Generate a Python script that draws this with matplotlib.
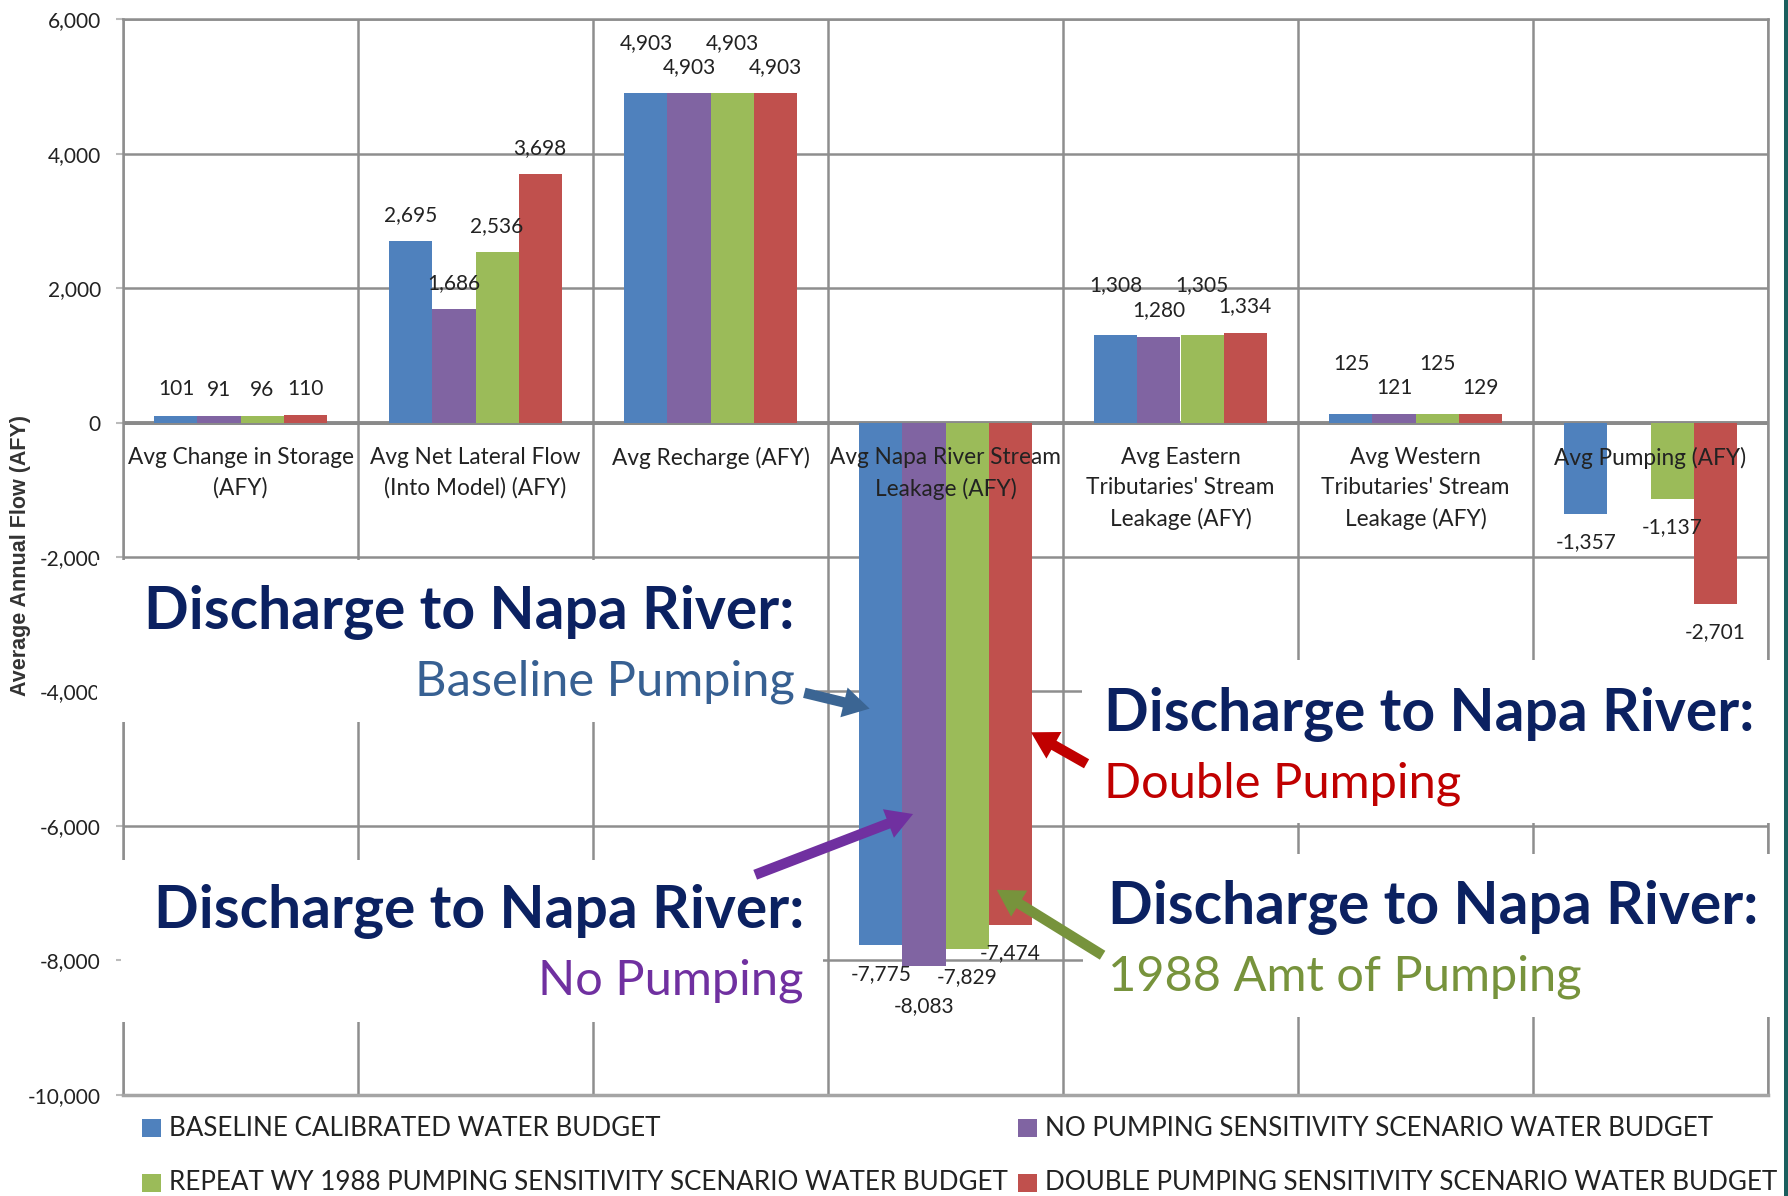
import matplotlib
matplotlib.use("Agg")
import matplotlib.pyplot as plt
from matplotlib.patches import Rectangle, FancyArrowPatch
import numpy as np

# ---------------- data ----------------
categories = [
    "Avg Change in Storage\n(AFY)",
    "Avg Net Lateral Flow\n(Into Model) (AFY)",
    "Avg Recharge (AFY)",
    "Avg Napa River Stream\nLeakage (AFY)",
    "Avg Eastern\nTributaries' Stream\nLeakage (AFY)",
    "Avg Western\nTributaries' Stream\nLeakage (AFY)",
    "Avg Pumping (AFY)",
]
series_names = [
    "BASELINE CALIBRATED WATER BUDGET",
    "NO PUMPING SENSITIVITY SCENARIO WATER BUDGET",
    "REPEAT WY 1988 PUMPING SENSITIVITY SCENARIO WATER BUDGET",
    "DOUBLE PUMPING SENSITIVITY SCENARIO WATER BUDGET",
]
baseline = [101, 2695, 4903, -7775, 1308, 125, -1357]
no_pumping = [91, 1686, 4903, -8083, 1280, 121, 0]
repeat_1988 = [96, 2536, 4903, -7829, 1305, 125, -1137]
double_pumping = [110, 3698, 4903, -7474, 1334, 129, -2701]
y_ticks = [-10000, -8000, -6000, -4000, -2000, 0, 2000, 4000, 6000]
y_label = "Average Annual Flow (AFY)"
callout_head = "Discharge to Napa River:"
callout_subs = ["Baseline Pumping", "Double Pumping", "No Pumping", "1988 Amt of Pumping"]

series = [baseline, no_pumping, repeat_1988, double_pumping]
colors = ["#4F81BD", "#8064A2", "#9BBB59", "#C0504D"]

# ---------------- figure ----------------
W, H = 1788, 1196
fig = plt.figure(figsize=(W / 100, H / 100), dpi=100)
fig.patch.set_facecolor("white")
S = W / 1568.0  # overview -> full pixel scale


def OV(xo, yo):
    """overview pixel coords -> figure fraction"""
    return xo * S / W, 1 - yo * S / H


ax_left, ax_right = 123, 1768
ax_top, ax_bot = 19.3, 1094.7
ax = fig.add_axes([ax_left / W, 1 - ax_bot / H, (ax_right - ax_left) / W, (ax_bot - ax_top) / H])
ax.set_xlim(-0.5, len(categories) - 0.5)
ax.set_ylim(-10000, 6000)

grid_c = "#8e8e8e"
ax.set_yticks(y_ticks)
ax.set_yticklabels([f"{t:,}" for t in y_ticks])
ax.set_xticks(np.arange(-0.5, len(categories), 1.0))
ax.tick_params(axis="x", length=0, labelbottom=False)
ax.tick_params(axis="y", length=5, width=1.5, color="#bbbbbb", pad=11, labelsize=15, labelcolor="#222222")
for lab in ax.get_yticklabels():
    lab.set_family("Lato")
ax.grid(True, color=grid_c, lw=1.8)
ax.set_axisbelow(True)
for sp in ax.spines.values():
    sp.set_color(grid_c)
    sp.set_linewidth(1.8)
ax.spines["bottom"].set_color("#a5a5a5")
ax.spines["bottom"].set_linewidth(2.5)
ax.axhline(0, color="#8a8a8a", lw=2.8, zorder=2)

x = np.arange(len(categories))
w = 0.183
for k, (vals, c) in enumerate(zip(series, colors)):
    ax.bar(x + (k - 1.5) * w, vals, w, color=c, zorder=3, linewidth=0)

# data labels
high_cats = {2, 4, 5}
for k, vals in enumerate(series):
    for i, v in enumerate(vals):
        if v == 0:
            continue
        if v > 0:
            dy = 36 if (i in high_cats and k in (0, 2)) else 19
        else:
            dy = -29 if (i == 3 and k == 1) else -20.5
        ax.annotate(f"{v:,}", xy=(i + (k - 1.5) * w, v), xytext=(0, dy), textcoords="offset points",
                    ha="center", va="center", fontsize=15, family="Lato", color="#222222", zorder=5)

# category labels just under the zero line
for i, cat in enumerate(categories):
    ax.annotate(cat, xy=(i, 0), xytext=(0, -17.5), textcoords="offset points", ha="center", va="top",
                fontsize=16.3, family="Lato", color="#222222", linespacing=1.53, zorder=5)

fig.text(21 / W, 1 - 556 / H, y_label, rotation=90, ha="center", va="center",
         fontsize=15.5, fontweight="bold", family="Liberation Sans", color="#333333")

# ---------------- legend ----------------
renderer = fig.canvas.get_renderer()


def fit_size(s, target_px, **kw):
    t = fig.text(0, 0, s, fontsize=30, **kw)
    wpx = t.get_window_extent(renderer=renderer).width
    t.remove()
    return 30 * target_px / wpx


leg_targets = [487, 667, 840, 730]
sizes = [fit_size(n, tw, family="Lato") for n, tw in zip(series_names, leg_targets)]
leg_size = float(np.median(sizes))
leg_pos = [(142, 1128), (1018, 1128), (142, 1183), (1018, 1183)]
for (px, py), name, c in zip(leg_pos, series_names, colors):
    fig.patches.append(Rectangle((px / W, 1 - (py + 9) / H), 19 / W, 18 / H,
                                 transform=fig.transFigure, facecolor=c, edgecolor="none"))
    fig.text((px + 27) / W, 1 - py / H, name, ha="left", va="center", fontsize=leg_size,
             family="Lato", color="#222222")

# ---------------- callout boxes ----------------
boxes = [(85, 491, 716, 633), (949, 579, 1568, 722), (106, 754, 722, 896), (950, 749, 1568, 892)]
for (x0, y0, x1, y1) in boxes:
    fx0, fy1 = OV(x0, y0)
    fx1, fy0 = OV(x1, y1)
    fig.patches.append(Rectangle((fx0, fy0), fx1 - fx0, fy1 - fy0, transform=fig.transFigure,
                                 facecolor="white", edgecolor="none", zorder=5))

head_size = fit_size(callout_head, 569 * S, family="Lato", fontweight="bold")
sub_colors = ["#376092", "#C00000", "#7030A0", "#77933C"]
sub_widths = [335, 314, 231, 412]
sub_size = float(np.median([fit_size(s, tw * S, family="Lato") for s, tw in zip(callout_subs, sub_widths)]))

# (anchor x, head baseline, sub baseline, ha)
callouts = [(697, 552, 610, "right"), (968, 641, 699, "left"), (705, 814, 872, "right"), (972, 810, 869, "left")]
for (ax_x, hb, sb, ha), sub, sc in zip(callouts, callout_subs, sub_colors):
    fig.text(*OV(ax_x, hb), callout_head, ha=ha, va="baseline", fontsize=head_size, fontweight="bold",
             family="Lato", color="#0B2161", zorder=6)
    fig.text(*OV(ax_x, sb), sub, ha=ha, va="baseline", fontsize=sub_size, family="Lato", color=sc, zorder=6)

arrows = [((703, 607), (765, 622), "#3B6593"), ((660, 768), (803, 713), "#7030A0"),
          ((955, 671), (902, 641), "#C00000"), ((969, 839), (872, 779), "#77933C")]
for (p0, p1, c) in arrows:
    fig.patches.append(FancyArrowPatch(OV(*p0), OV(*p1), transform=fig.transFigure,
                                       arrowstyle="simple,head_width=22,head_length=19,tail_width=7.5",
                                       mutation_scale=1, color=c, lw=0, zorder=7))

# thin dark edge at the right
fig.patches.append(Rectangle((1784 / W, 0), 4 / W, 1, transform=fig.transFigure,
                             facecolor="#1B5E5E", edgecolor="none", zorder=8))

fig.savefig("out.png", dpi=100)
